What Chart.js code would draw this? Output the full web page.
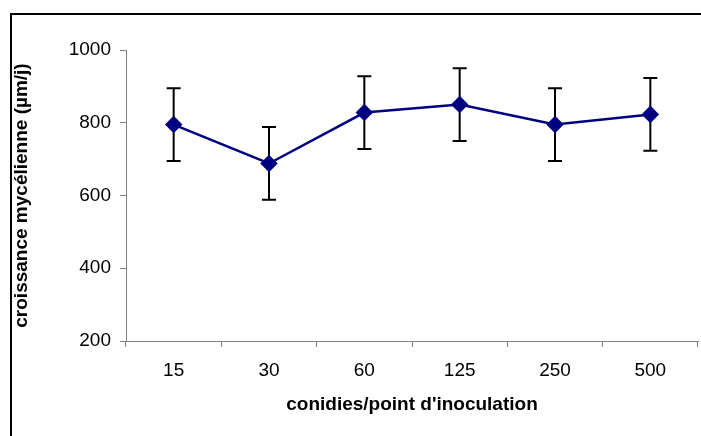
<!DOCTYPE html>
<html lang="fr">

<head>
    <meta charset="UTF-8">
    <title>Croissance mycélienne</title>
    <script src="https://cdn.jsdelivr.net/npm/chart.js@4.4.1/dist/chart.umd.min.js"></script>
    <style>
        body { margin: 0; overflow: hidden; background: #fff; }
        #frame {
            position: absolute; left: 10px; top: 13px;
            width: 800px; height: 500px;
            border-left: 2px solid #000; border-top: 2px solid #000;
        }
        #chart { position: absolute; left: 0; top: 0; }
    </style>
</head>

<body>
    <div id="frame"></div>
    <canvas id="chart" width="701" height="436"></canvas>
    <script>
        // conidies par point d'inoculation
        var labels = ['15', '30', '60', '125', '250', '500'];
        // croissance mycélienne moyenne (µm/j)
        var growth = [795, 688, 828, 850, 795, 823];
        // écart (barres d'erreur)
        var errors = [100, 100, 100, 100, 100, 100];
        var yTicks = [200, 400, 600, 800, 1000];

        var axisGray = '#808080';
        var font = 'Liberation Sans, Arial, sans-serif';

        // barres d'erreur dessinées avec les échelles du graphique
        const errorBars = {
            id: 'errorBars',
            beforeDatasetsDraw(chart) {
                const ctx = chart.ctx;
                const meta = chart.getDatasetMeta(0);
                const y = chart.scales.y;
                ctx.save();
                ctx.strokeStyle = '#000';
                ctx.lineWidth = 2;
                meta.data.forEach((pt, i) => {
                    const top = y.getPixelForValue(growth[i] + errors[i]);
                    const bot = y.getPixelForValue(growth[i] - errors[i]);
                    ctx.beginPath();
                    ctx.moveTo(pt.x, top);
                    ctx.lineTo(pt.x, bot);
                    ctx.moveTo(pt.x - 7, top);
                    ctx.lineTo(pt.x + 7, top);
                    ctx.moveTo(pt.x - 7, bot);
                    ctx.lineTo(pt.x + 7, bot);
                    ctx.stroke();
                });
                ctx.restore();
            }
        };

        const ctx = document.getElementById('chart').getContext('2d');
        const myChart = new Chart(ctx, {
            type: 'line',
            data: {
                labels: labels,
                datasets: [{
                    data: growth,
                    borderColor: '#000080',
                    backgroundColor: '#000080',
                    borderWidth: 2.5,
                    pointStyle: 'rectRot',
                    pointRadius: 7,
                    pointHoverRadius: 7,
                    tension: 0
                }]
            },
            plugins: [errorBars],
            options: {
                responsive: false,
                animation: false,
                layout: {
                    autoPadding: false,
                    padding: { top: 50, right: 3, left: 0, bottom: 0 }
                },
                plugins: { legend: { display: false }, tooltip: { enabled: false } },
                scales: {
                    x: {
                        offset: true,
                        grid: {
                            offset: true,
                            drawOnChartArea: false,
                            drawTicks: true,
                            tickLength: 6,
                            color: axisGray
                        },
                        border: { color: axisGray, width: 1 },
                        ticks: {
                            color: '#000',
                            padding: 12,
                            font: { family: font, size: 19 }
                        },
                        title: {
                            display: true,
                            text: "conidies/point d'inoculation",
                            color: '#000',
                            font: { family: font, size: 19, weight: 'bold' },
                            padding: { top: 4, bottom: 20 }
                        },
                        afterFit: function (s) {
                            s.height = 95;
                            s.paddingLeft = 0;
                            s.paddingRight = 0;
                        }
                    },
                    y: {
                        min: 200,
                        max: 1000,
                        afterBuildTicks: function (s) {
                            s.ticks = yTicks.map(v => ({ value: v }));
                        },
                        grid: {
                            drawOnChartArea: false,
                            drawTicks: true,
                            tickLength: 6,
                            color: axisGray
                        },
                        border: { color: axisGray, width: 1 },
                        ticks: {
                            color: '#000',
                            padding: 9,
                            font: { family: font, size: 19 },
                            callback: function (v) { return String(v); }
                        },
                        title: {
                            display: true,
                            text: 'croissance mycélienne (µm/j)',
                            color: '#000',
                            font: { family: font, size: 19, weight: 'bold' },
                            padding: { top: 10, bottom: 0 }
                        },
                        afterFit: function (s) {
                            s.width = 126;
                            s.paddingTop = 0;
                            s.paddingBottom = 0;
                        }
                    }
                }
            }
        });
    </script>
</body>

</html>
